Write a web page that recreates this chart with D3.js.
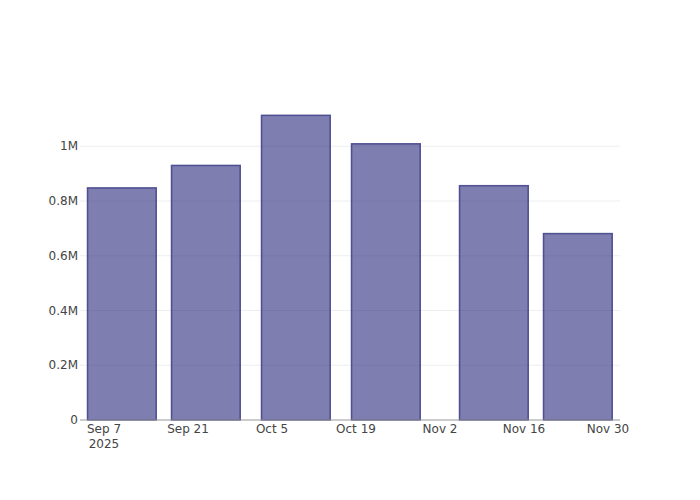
<!DOCTYPE html>
<html>
<head>
<meta charset="utf-8">
<script src="https://cdn.jsdelivr.net/npm/d3@7"></script>
<style>
  body { margin: 0; background: #fff; }
  text { font-family: "DejaVu Sans", sans-serif; font-size: 12px; fill: #444; }
</style>
</head>
<body>
<svg id="chart" width="700" height="500"></svg>
<script>
// bar dates and values
var dates = ['2025-09-10', '2025-09-24', '2025-10-09', '2025-10-24', '2025-11-11', '2025-11-25'];
var values = [848000, 930000, 1113000, 1009000, 856000, 681000];
var yTicks = [0, 200000, 400000, 600000, 800000, 1000000];
var yTickLabels = ['0', '0.2M', '0.4M', '0.6M', '0.8M', '1M'];
var xTicks = ['2025-09-07', '2025-09-21', '2025-10-05', '2025-10-19', '2025-11-02', '2025-11-16', '2025-11-30'];
var xTickLabels = ['Sep 7', 'Sep 21', 'Oct 5', 'Oct 19', 'Nov 2', 'Nov 16', 'Nov 30'];

var parse = d3.timeParse('%Y-%m-%d');
var margin = {top: 100, right: 80, bottom: 80, left: 80};
var width = 700 - margin.left - margin.right;
var height = 500 - margin.top - margin.bottom;
var halfBarDays = 5.72;

var svg = d3.select('#chart');
var g = svg.append('g').attr('transform', 'translate(' + margin.left + ',' + margin.top + ')');

var x = d3.scaleUtc()
  .domain([parse('2025-09-03'), parse('2025-12-02')])
  .range([0, width]);
var y = d3.scaleLinear()
  .domain([0, 1169000])
  .range([height, 0]);

// gridlines
g.selectAll('.grid')
  .data(yTicks.slice(1))
  .enter().append('line')
  .attr('x1', 0).attr('x2', width)
  .attr('y1', function(d){ return y(d); })
  .attr('y2', function(d){ return y(d); })
  .attr('stroke', '#eee')
  .attr('stroke-width', 1);

// bars
var data = dates.map(function(d, i){ return {date: parse(d), value: values[i]}; });
g.selectAll('.bar')
  .data(data)
  .enter().append('rect')
  .attr('x', function(d){ return x(d3.utcHour.offset(d.date, -halfBarDays * 24)); })
  .attr('width', function(d){
    return x(d3.utcHour.offset(d.date, halfBarDays * 24)) - x(d3.utcHour.offset(d.date, -halfBarDays * 24));
  })
  .attr('y', function(d){ return y(d.value); })
  .attr('height', function(d){ return y(0) - y(d.value); })
  .attr('fill', 'rgb(40,40,124)')
  .attr('fill-opacity', 0.6)
  .attr('stroke', 'rgb(60,60,135)')
  .attr('stroke-opacity', 0.85)
  .attr('stroke-width', 1.5);

// x axis line
g.append('line')
  .attr('x1', 0).attr('x2', width)
  .attr('y1', y(0)).attr('y2', y(0))
  .attr('stroke', '#999')
  .attr('stroke-width', 1);

// y tick labels
g.selectAll('.ylab')
  .data(yTicks)
  .enter().append('text')
  .attr('x', -2)
  .attr('y', function(d){ return y(d); })
  .attr('dy', '0.35em')
  .attr('text-anchor', 'end')
  .text(function(d, i){ return yTickLabels[i]; });

// x tick labels
g.selectAll('.xlab')
  .data(xTicks)
  .enter().append('text')
  .attr('x', function(d){ return x(parse(d)); })
  .attr('y', height + 13)
  .attr('text-anchor', 'middle')
  .text(function(d, i){ return xTickLabels[i]; });

g.append('text')
  .attr('x', x(parse(xTicks[0])))
  .attr('y', height + 28)
  .attr('text-anchor', 'middle')
  .text('2025');
</script>
</body>
</html>
